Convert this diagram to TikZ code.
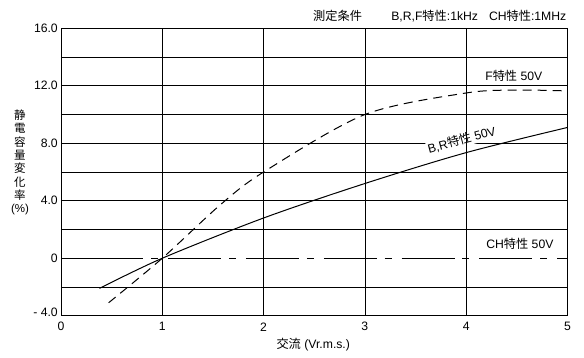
\documentclass[tikz,border=0pt]{standalone}
\usepackage{fontspec}
\setmainfont{Liberation Sans}
\newfontfamily\jp{Noto Sans CJK JP}
\begin{document}
\begin{tikzpicture}[x=101.3pt,y=14.37pt,
    lbl/.style={font=\fontsize{12.2}{13.3}\selectfont, inner sep=1pt},
    gridline/.style={line width=0.7pt},
    brcurve/.style={line width=1pt},
    fcurve/.style={line width=1pt, dash pattern=on 9pt off 6pt},
    chcurve/.style={line width=1pt}]
  \useasboundingbox (-0.602,-6.94) rectangle (5.163,17.97);
  % horizontal grid
  \foreach \v in {-2,2,4,...,14} \draw[gridline] (0,\v) -- (5,\v);
  \draw[gridline] (0,0) -- (0.29,0);
  \node[lbl,fill=white,rotate=15] (brlab) at (3.955,8.23) {B,R{\jp 特性} 50V};
  % vertical grid and frame
  \foreach \u in {1,...,4} \draw[gridline] (\u,-4) -- (\u,16);
  \draw[gridline] (0,-4) rectangle (5,16);
  % tick labels
  \foreach \v/\t in {16/16.0,12/12.0,8/8.0,4/4.0,0/0}
    \node[lbl,anchor=east] (y\v) at (-0.02,\v) {\t};
  \node[lbl,anchor=east] (ym4) at (-0.02,-3.75) {- 4.0};
  \foreach \u in {0,...,5} \node[lbl] (x\u) at (\u,-4.77) {\u};
  % curves
  \draw[brcurve] plot[smooth] coordinates {(0.38,-2.1) (1,0) (2,2.8) (3,5.2) (4,7.35) (5,9.1)};
  \draw[fcurve] plot[smooth] coordinates {(0.47,-3.1) (1,0) (1.57,3.7) (2,6.0) (3,10.0) (4,11.5) (4.5,11.7) (4.96,11.65)};
  % CH line, long and short dashes
  \begin{scope}
    \clip (0,-1) rectangle (5,1);
    \foreach \s in {0,...,6} {
      \draw[chcurve] ({0.29+0.768*\s},0) -- ++(0.523,0);
      \draw[chcurve] ({0.891+0.768*\s},0) -- ++(0.069,0);
    }
  \end{scope}
  % labels
  \node[lbl] (flab) at (4.47,12.7) {F{\jp 特性} 50V};
  \node[lbl] (chlab) at (4.53,1.0) {CH{\jp 特性} 50V};
  \node[lbl,anchor=base east] (title) at (5,16.53) {{\jp 測定条件}\hspace{2.4em}B,R,F{\jp 特性}:1kHz\hspace{0.9em}CH{\jp 特性}:1MHz};
  \node[lbl] (xlab) at (2.49,-6.04) {{\jp 交流} (Vr.m.s.)};
  \node[lbl,align=center,font=\fontsize{11.5}{13.3}\selectfont\jp] (ylab) at (-0.405,6.66)
    {静\\電\\容\\量\\変\\化\\率\\{\normalfont(\%)}};
\end{tikzpicture}
\end{document}
